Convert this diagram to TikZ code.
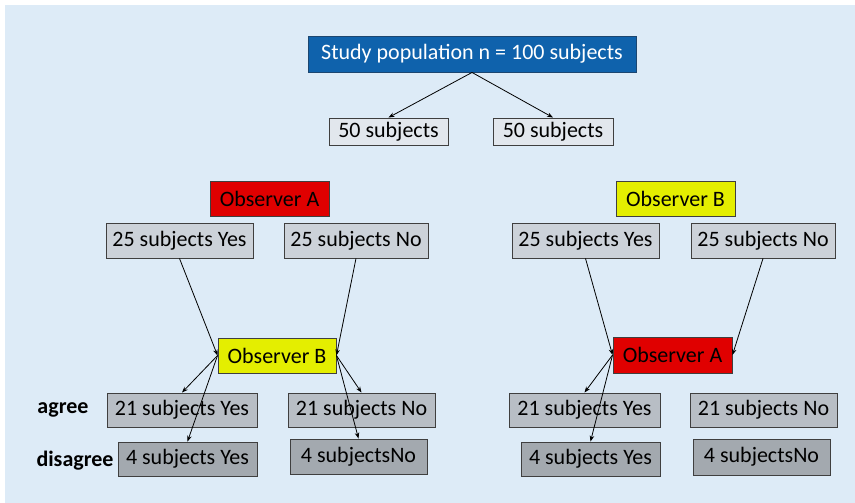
\documentclass[tikz,border=0pt]{standalone}
\usepackage{fontspec}
\setmainfont{Carlito}
\usetikzlibrary{arrows.meta}
\definecolor{bgblue}{HTML}{DDEBF7}
\definecolor{popblue}{HTML}{0F62AC}
\definecolor{popedge}{HTML}{1C4670}
\definecolor{obsred}{HTML}{E00000}
\definecolor{obsyellow}{HTML}{E4EE00}
\definecolor{grayA}{HTML}{E2E7ED}
\definecolor{grayB}{HTML}{CCD2D9}
\definecolor{grayC}{HTML}{B8BEC5}
\definecolor{grayD}{HTML}{A3A9AF}
\definecolor{edgegray}{HTML}{3F3F3F}
\tikzset{
  basebox/.style={draw=edgegray, line width=0.9pt, inner sep=0pt, font=\fontsize{22}{24}\selectfont, text=black},
  popbox/.style={basebox, draw=popedge, fill=popblue, text=white},
  halfbox/.style={basebox, fill=grayA},
  firstbox/.style={basebox, fill=grayB},
  agreebox/.style={basebox, fill=grayC},
  disbox/.style={basebox, fill=grayD},
  redobs/.style={basebox, fill=obsred},
  yelobs/.style={basebox, fill=obsyellow},
  rowlabel/.style={font=\fontsize{22}{24}\selectfont\bfseries},
  link/.style={draw=black, line width=0.8pt},
  arrow/.style={link, -{Stealth[length=6pt,width=4.5pt]}}
}
\begin{document}
\begin{tikzpicture}[x=1pt,y=-1pt]
\useasboundingbox (0,0) rectangle (855,503);
\fill[bgblue] (5,5) rectangle (855,503);

% study population and first split
\node[popbox, minimum width=328, minimum height=36] (pop) at (472,54) {Study population n = 100 subjects};
\node[halfbox, minimum width=119, minimum height=27] (halfL) at (388.5,131.5) {50 subjects};
\node[halfbox, minimum width=120, minimum height=27] (halfR) at (553,131.5) {50 subjects};

% left branch: observer A rates first
\node[redobs, minimum width=119, minimum height=35] (obsA1) at (269.5,198.5) {Observer A};
\node[firstbox, minimum width=147, minimum height=35] (y25L) at (179.5,240.5) {25 subjects Yes};
\node[firstbox, minimum width=144, minimum height=35] (n25L) at (356,240.5) {25 subjects No};
\node[yelobs, minimum width=118, minimum height=35] (obsB1) at (277,355.5) {Observer B};
\node[agreebox, minimum width=150, minimum height=34] (y21L) at (182,410) {21 subjects Yes};
\node[agreebox, minimum width=147, minimum height=34] (n21L) at (361.5,410) {21 subjects No};
\node[disbox, minimum width=139, minimum height=34] (y4L) at (187.5,459) {4 subjects Yes};
\node[disbox, minimum width=137, minimum height=35] (n4L) at (358.5,456.5) {4 subjectsNo};

% right branch: observer B rates first
\node[yelobs, minimum width=119, minimum height=35] (obsB2) at (675.5,198.5) {Observer B};
\node[firstbox, minimum width=147, minimum height=35] (y25R) at (585.5,240.5) {25 subjects Yes};
\node[firstbox, minimum width=144, minimum height=35] (n25R) at (763,240.5) {25 subjects No};
\node[redobs, minimum width=119, minimum height=36] (obsA2) at (672.5,355) {Observer A};
\node[agreebox, minimum width=151, minimum height=34] (y21R) at (584.5,410) {21 subjects Yes};
\node[agreebox, minimum width=147, minimum height=34] (n21R) at (763.5,410) {21 subjects No};
\node[disbox, minimum width=139, minimum height=34] (y4R) at (590.5,459) {4 subjects Yes};
\node[disbox, minimum width=137, minimum height=36] (n4R) at (761.5,457) {4 subjectsNo};

% row labels
\node[rowlabel] (agree) at (63,410) {agree};
\node[rowlabel] (disagree) at (75,461) {disagree};

% connectors
\draw[arrow] (pop.south) -- (halfL.north);
\draw[arrow] (pop.south) -- (halfR.north);

\draw[arrow] (y25L.south) -- (obsB1.west);
\draw[arrow] (n25L.south) -- (obsB1.east);
\draw[arrow] (obsB1.west) -- (y21L.north);
\draw[arrow] (obsB1.west) -- (y4L.north);
\draw[arrow] (obsB1.east) -- (n21L.north);
\draw[arrow] (obsB1.east) -- (n4L.north);

\draw[arrow] (y25R.south) -- (obsA2.west);
\draw[arrow] (n25R.south) -- (obsA2.east);
\draw[arrow] (obsA2.west) -- (y21R.north);
\draw[arrow] (obsA2.west) -- (y4R.north);
\end{tikzpicture}
\end{document}
